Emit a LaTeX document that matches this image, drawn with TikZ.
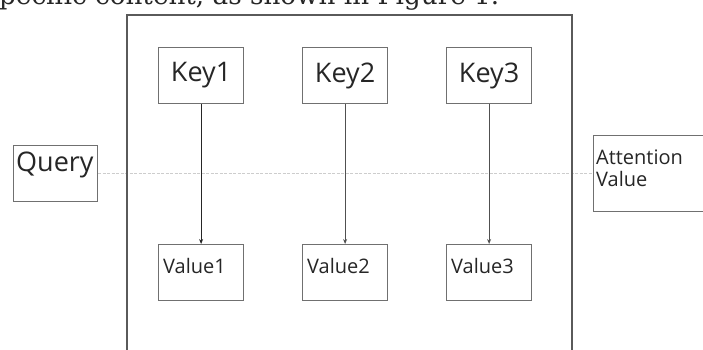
\documentclass[tikz,border=0pt]{standalone}
\usepackage{fontspec}
\setmainfont{Open Sans}
\newfontfamily\serifx{DejaVu Serif}
\usetikzlibrary{arrows.meta}
\definecolor{boxgray}{RGB}{112,112,112}
\definecolor{framegray}{RGB}{90,90,90}
\definecolor{arrgray}{RGB}{80,80,80}
\definecolor{dotgray}{RGB}{205,205,205}
\newcommand{\keyfont}{\fontsize{27}{30}\selectfont}
\newcommand{\valfont}{\fontsize{20}{22}\selectfont}
\begin{document}
\begin{tikzpicture}[x=1pt,y=-1pt,
  box/.style={draw=boxgray, line width=1.2pt, minimum width=85pt, minimum height=56pt,
              inner sep=0pt, anchor=north west},
  keybox/.style={box, font=\keyfont, text=black!85},
  vlbl/.style={anchor=north west, inner sep=0pt, font=\valfont, text=black!85, xshift=5pt, yshift=-14pt},
  arr/.style={draw=arrgray, line width=1.1pt, -{Stealth[length=5pt,width=4pt]}},
  qline/.style={draw=dotgray, line width=1.2pt, dash pattern=on 3pt off 1.5pt}]
\useasboundingbox (0,0) rectangle (703,349);
\clip (0,0) rectangle (703,349);
% caption fragment at top
\node[anchor=base west, inner sep=0pt, text=black!85] (cap) at (-1,4.5)
  {\resizebox{500pt}{!}{\serifx pecific content, as shown in Figure 1.}};
% nodes
\node[box, minimum width=84pt,
  label={[anchor=north west, inner sep=0pt, font=\keyfont, text=black!85, xshift=3pt, yshift=-7pt]north west:Query}]
  (q) at (13,145) {};
\node[box, minimum width=130pt, minimum height=76pt,
  label={[anchor=north west, inner sep=0pt, font=\valfont, text=black!85, align=left, xshift=3pt, yshift=-15pt]north west:{Attention\\Value}}]
  (att) at (593,135) {};
\draw[qline] (q.east) -- (att.west);
% frame
\draw[draw=framegray, line width=1.2pt] (127,15) rectangle (572,370);
% keys and values
\node[keybox] (k1) at (158,47) {Key1};
\node[keybox] (k2) at (302,47) {Key2};
\node[keybox] (k3) at (446,47) {Key3};
\node[box, label={[vlbl]north west:Value1}] (v1) at (158,244) {};
\node[box, label={[vlbl]north west:Value2}] (v2) at (302,244) {};
\node[box, label={[vlbl]north west:Value3}] (v3) at (446,244) {};
\draw[arr, draw=black!85] (k1) -- (v1);
\draw[arr] (k2) -- (v2);
\draw[arr] (k3) -- (v3);
\end{tikzpicture}
\end{document}
